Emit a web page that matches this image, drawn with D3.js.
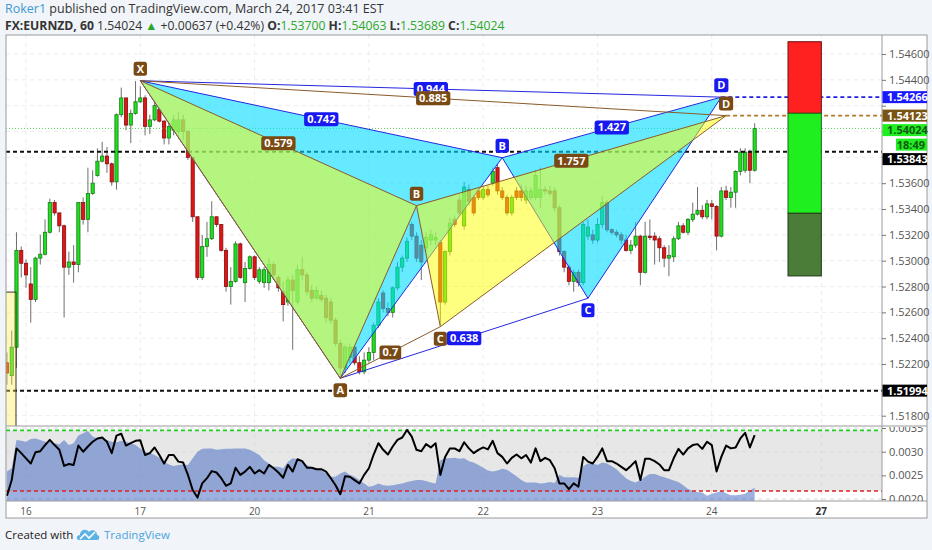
<!DOCTYPE html>
<html lang="en">
<head>
  <meta charset="UTF-8">
  <title>FX:EURNZD, 60</title>
  <script src="https://d3js.org/d3.v7.min.js"></script>
  <style>
    body { margin: 0; background: #f1f4f8; font-family: "Open Sans", Arial, sans-serif; }
    svg { display: block; }
    .tick text { fill: #555; font-size: 11px; font-family: "Open Sans", Arial, sans-serif; }
    .tick line { stroke: #777; }
  </style>
</head>
<body>
<svg width="932" height="550"></svg>
<script>
// ---- data (hourly bars, index 0 = Mar 16 00:00) ----
const firstBar = -4;
const opens = [
  1.5221, 1.5211, 1.5233, 1.5308, 1.5298, 1.5282, 1.5270, 1.5302, 1.5305, 1.5322,
  1.5345, 1.5337, 1.5327, 1.5295, 1.5299, 1.5297, 1.5345, 1.5332, 1.5352, 1.5366,
  1.5377, 1.5381, 1.5375, 1.5361, 1.5413, 1.5426, 1.5405, 1.5414, 1.5423, 1.5426,
  1.5404, 1.5409, 1.5417, 1.5408, 1.5395, 1.5401, 1.5400, 1.5409, 1.5400, 1.5380,
  1.5334, 1.5287, 1.5311, 1.5317, 1.5334, 1.5328, 1.5308, 1.5280, 1.5284, 1.5313,
  1.5283, 1.5294, 1.5303, 1.5284, 1.5283, 1.5283, 1.5297, 1.5287, 1.5276, 1.5268,
  1.5285, 1.5268, 1.5293, 1.5289, 1.5277, 1.5271, 1.5273, 1.5271, 1.5268, 1.5254,
  1.5236, 1.5217, 1.5225, 1.5233, 1.5221, 1.5214, 1.5223, 1.5229, 1.5250, 1.5275,
  1.5263, 1.5260, 1.5279, 1.5295, 1.5302, 1.5328, 1.5319, 1.5312, 1.5310, 1.5316,
  1.5316, 1.5314, 1.5268, 1.5307, 1.5332, 1.5347, 1.5327, 1.5355, 1.5349, 1.5354,
  1.5349, 1.5355, 1.5360, 1.5372, 1.5354, 1.5349, 1.5337, 1.5354, 1.5354, 1.5347,
  1.5349, 1.5349, 1.5349, 1.5355, 1.5354, 1.5354, 1.5341, 1.5307, 1.5295, 1.5284,
  1.5291, 1.5283, 1.5319, 1.5320, 1.5316, 1.5328, 1.5345, 1.5324, 1.5322, 1.5320,
  1.5316, 1.5308, 1.5312, 1.5319, 1.5291, 1.5319, 1.5319, 1.5317, 1.5310, 1.5302,
  1.5303, 1.5317, 1.5327, 1.5322, 1.5332, 1.5336, 1.5339, 1.5334, 1.5344, 1.5342,
  1.5319, 1.5354, 1.5349, 1.5353, 1.5369, 1.5370, 1.5384, 1.53700
];
const highs = [
  1.5229, 1.5246, 1.5322, 1.5311, 1.5301, 1.5295, 1.5303, 1.5320, 1.5332, 1.5348,
  1.5347, 1.5337, 1.5328, 1.5307, 1.5312, 1.5345, 1.5349, 1.5372, 1.5370, 1.5387,
  1.5392, 1.5388, 1.5376, 1.5414, 1.5434, 1.5426, 1.5417, 1.5439, 1.5435, 1.5428,
  1.5413, 1.5424, 1.5419, 1.5409, 1.5408, 1.5413, 1.5415, 1.5413, 1.5401, 1.5380,
  1.5334, 1.5320, 1.5330, 1.5346, 1.5334, 1.5328, 1.5310, 1.5295, 1.5315, 1.5314,
  1.5299, 1.5304, 1.5304, 1.5295, 1.5295, 1.5302, 1.5299, 1.5289, 1.5284, 1.5288,
  1.5289, 1.5297, 1.5303, 1.5291, 1.5281, 1.5280, 1.5277, 1.5274, 1.5271, 1.5256,
  1.5239, 1.5235, 1.5236, 1.5234, 1.5226, 1.5229, 1.5233, 1.5252, 1.5271, 1.5277,
  1.5268, 1.5280, 1.5299, 1.5304, 1.5318, 1.5330, 1.5322, 1.5316, 1.5322, 1.5324,
  1.5322, 1.5316, 1.5308, 1.5333, 1.5335, 1.5351, 1.5361, 1.5359, 1.5351, 1.5357,
  1.5358, 1.5358, 1.5372, 1.5375, 1.5357, 1.5351, 1.5351, 1.5357, 1.5359, 1.5358,
  1.5357, 1.5370, 1.5372, 1.5358, 1.5358, 1.5357, 1.5343, 1.5308, 1.5297, 1.5293,
  1.5293, 1.5330, 1.5332, 1.5324, 1.5333, 1.5350, 1.5347, 1.5325, 1.5324, 1.5322,
  1.5320, 1.5316, 1.5330, 1.5320, 1.5330, 1.5332, 1.5322, 1.5319, 1.5312, 1.5312,
  1.5319, 1.5330, 1.5329, 1.5333, 1.5345, 1.5357, 1.5343, 1.5347, 1.5347, 1.5343,
  1.5357, 1.5358, 1.5357, 1.5370, 1.5387, 1.5387, 1.5386, 1.54063
];
const lows = [
  1.5204, 1.5204, 1.5217, 1.5287, 1.5279, 1.5252, 1.5268, 1.5297, 1.5304, 1.5321,
  1.5335, 1.5322, 1.5256, 1.5289, 1.5283, 1.5291, 1.5328, 1.5322, 1.5351, 1.5365,
  1.5376, 1.5368, 1.5358, 1.5355, 1.5411, 1.5401, 1.5391, 1.5413, 1.5422, 1.5397,
  1.5398, 1.5408, 1.5407, 1.5390, 1.5390, 1.5397, 1.5397, 1.5393, 1.5378, 1.5330,
  1.5285, 1.5285, 1.5303, 1.5316, 1.5326, 1.5307, 1.5276, 1.5266, 1.5283, 1.5286,
  1.5268, 1.5293, 1.5285, 1.5282, 1.5279, 1.5277, 1.5285, 1.5276, 1.5253, 1.5265,
  1.5231, 1.5266, 1.5285, 1.5273, 1.5268, 1.5270, 1.5268, 1.5252, 1.5251, 1.5234,
  1.5209, 1.5213, 1.5221, 1.5219, 1.5212, 1.5212, 1.5221, 1.5223, 1.5248, 1.5260,
  1.5257, 1.5256, 1.5277, 1.5291, 1.5299, 1.5316, 1.5299, 1.5285, 1.5307, 1.5312,
  1.5312, 1.5250, 1.5266, 1.5304, 1.5326, 1.5335, 1.5324, 1.5343, 1.5335, 1.5347,
  1.5347, 1.5349, 1.5358, 1.5351, 1.5347, 1.5335, 1.5335, 1.5347, 1.5346, 1.5344,
  1.5347, 1.5347, 1.5341, 1.5351, 1.5350, 1.5338, 1.5304, 1.5291, 1.5281, 1.5276,
  1.5280, 1.5281, 1.5316, 1.5313, 1.5314, 1.5325, 1.5322, 1.5320, 1.5318, 1.5313,
  1.5307, 1.5305, 1.5310, 1.5281, 1.5290, 1.5316, 1.5297, 1.5299, 1.5295, 1.5288,
  1.5299, 1.5316, 1.5321, 1.5320, 1.5330, 1.5335, 1.5332, 1.5332, 1.5332, 1.5308,
  1.5318, 1.5347, 1.5341, 1.5341, 1.5366, 1.5368, 1.5360, 1.53689
];
const closes = [
  1.5213, 1.5233, 1.5308, 1.5298, 1.5289, 1.5270, 1.5302, 1.5305, 1.5322, 1.5345,
  1.5337, 1.5327, 1.5295, 1.5299, 1.5297, 1.5345, 1.5332, 1.5352, 1.5360, 1.5377,
  1.5381, 1.5375, 1.5361, 1.5413, 1.5426, 1.5405, 1.5414, 1.5423, 1.5426, 1.5404,
  1.5409, 1.5420, 1.5408, 1.5395, 1.5404, 1.5409, 1.5409, 1.5400, 1.5380, 1.5334,
  1.5287, 1.5311, 1.5317, 1.5334, 1.5328, 1.5308, 1.5280, 1.5284, 1.5313, 1.5287,
  1.5294, 1.5303, 1.5287, 1.5293, 1.5293, 1.5297, 1.5289, 1.5279, 1.5266, 1.5285,
  1.5277, 1.5293, 1.5289, 1.5276, 1.5271, 1.5277, 1.5270, 1.5256, 1.5254, 1.5236,
  1.5217, 1.5233, 1.5233, 1.5221, 1.5214, 1.5223, 1.5229, 1.5250, 1.5268, 1.5263,
  1.5260, 1.5279, 1.5295, 1.5302, 1.5315, 1.5319, 1.5302, 1.5299, 1.5318, 1.5320,
  1.5318, 1.5268, 1.5307, 1.5329, 1.5328, 1.5337, 1.5357, 1.5346, 1.5337, 1.5349,
  1.5355, 1.5351, 1.5369, 1.5354, 1.5349, 1.5337, 1.5349, 1.5349, 1.5349, 1.5354,
  1.5354, 1.5366, 1.5355, 1.5354, 1.5352, 1.5341, 1.5307, 1.5295, 1.5284, 1.5291,
  1.5283, 1.5328, 1.5326, 1.5316, 1.5328, 1.5345, 1.5324, 1.5322, 1.5320, 1.5316,
  1.5308, 1.5312, 1.5319, 1.5291, 1.5319, 1.5318, 1.5316, 1.5310, 1.5302, 1.5304,
  1.5317, 1.5327, 1.5322, 1.5332, 1.5336, 1.5339, 1.5334, 1.5344, 1.5342, 1.5319,
  1.5354, 1.5349, 1.5353, 1.5369, 1.5384, 1.5384, 1.5370, 1.54024
];

// lower pane: black line and blue area, same bars
const oscLine = [
  0.00207, 0.00240, 0.00307, 0.00297, 0.00286, 0.00275, 0.00299, 0.00301, 0.00314, 0.00325,
  0.00314, 0.00304, 0.00270, 0.00274, 0.00272, 0.00313, 0.00300, 0.00311, 0.00321, 0.00328,
  0.00330, 0.00321, 0.00297, 0.00334, 0.00338, 0.00313, 0.00318, 0.00323, 0.00324, 0.00293,
  0.00297, 0.00309, 0.00293, 0.00275, 0.00293, 0.00293, 0.00279, 0.00277, 0.00251, 0.00219,
  0.00203, 0.00233, 0.00244, 0.00259, 0.00256, 0.00244, 0.00228, 0.00233, 0.00266, 0.00251,
  0.00258, 0.00268, 0.00254, 0.00261, 0.00254, 0.00272, 0.00265, 0.00256, 0.00245, 0.00272,
  0.00258, 0.00284, 0.00280, 0.00266, 0.00266, 0.00263, 0.00263, 0.00258, 0.00244, 0.00229,
  0.00210, 0.00248, 0.00247, 0.00240, 0.00233, 0.00251, 0.00265, 0.00294, 0.00318, 0.00304,
  0.00294, 0.00311, 0.00325, 0.00330, 0.00346, 0.00332, 0.00304, 0.00301, 0.00316, 0.00309,
  0.00318, 0.00251, 0.00289, 0.00307, 0.00307, 0.00301, 0.00320,
  0.00307, 0.00297, 0.00304, 0.00309, 0.00305, 0.00323, 0.00297, 0.00289, 0.00275, 0.00287,
  0.00294, 0.00286, 0.00293, 0.00277, 0.00307, 0.00280, 0.00287, 0.00282, 0.00265, 0.00233,
  0.00233, 0.00221, 0.00233, 0.00226, 0.00289, 0.00279, 0.00275, 0.00289, 0.00307, 0.00280,
  0.00280, 0.00275, 0.00268, 0.00261, 0.00270, 0.00280, 0.00240, 0.00285, 0.00285, 0.00280,
  0.00273, 0.00261, 0.00261, 0.00286, 0.00306, 0.00294, 0.00307, 0.00314, 0.00316, 0.00306,
  0.00321, 0.00314, 0.00258, 0.00289, 0.00313, 0.00307, 0.00309, 0.00328, 0.00340, 0.00309,
  0.00335
];
const oscArea = [
  0.00258, 0.00265, 0.00325, 0.00323, 0.00321, 0.00327, 0.00328, 0.00325, 0.00321, 0.00321,
  0.00318, 0.00316, 0.00325, 0.00314, 0.00318, 0.00334, 0.00339, 0.00344, 0.00332, 0.00328,
  0.00327, 0.00325, 0.00321, 0.00320, 0.00323, 0.00321, 0.00318, 0.00314, 0.00307, 0.00300,
  0.00297, 0.00293, 0.00287, 0.00279, 0.00273, 0.00270, 0.00272, 0.00273, 0.00272, 0.00286,
  0.00300, 0.00306, 0.00307, 0.00307, 0.00304, 0.00305, 0.00306, 0.00306, 0.00307, 0.00307,
  0.00307, 0.00304, 0.00299, 0.00293, 0.00282, 0.00275, 0.00268, 0.00268, 0.00265, 0.00279,
  0.00286, 0.00284, 0.00279, 0.00272, 0.00266, 0.00265, 0.00261, 0.00254, 0.00247, 0.00247,
  0.00254, 0.00258, 0.00251, 0.00247, 0.00240, 0.00233, 0.00226, 0.00228, 0.00233, 0.00229,
  0.00228, 0.00229, 0.00231, 0.00233, 0.00236, 0.00238, 0.00240, 0.00240, 0.00238, 0.00235,
  0.00233, 0.00282, 0.00286, 0.00286, 0.00287, 0.00285, 0.00286,
  0.00280, 0.00277, 0.00272, 0.00266, 0.00260, 0.00258, 0.00260, 0.00264, 0.00262, 0.00255,
  0.00248, 0.00240, 0.00235, 0.00235, 0.00235, 0.00233, 0.00234, 0.00236, 0.00234, 0.00251,
  0.00246, 0.00246, 0.00246, 0.00245, 0.00269, 0.00275, 0.00275, 0.00272, 0.00277, 0.00275,
  0.00269, 0.00263, 0.00253, 0.00244, 0.00238, 0.00235, 0.00240, 0.00247, 0.00253, 0.00253,
  0.00249, 0.00246, 0.00243, 0.00239, 0.00236, 0.00229, 0.00221, 0.00217, 0.00215, 0.00214,
  0.00207, 0.00211, 0.00214, 0.00217, 0.00212, 0.00208, 0.00208, 0.00209, 0.00211, 0.00218,
  0.00224
];
const oscUpper = 0.00345, oscLower = 0.00217;

// axes
const dayTicks = [0, 24, 48, 72, 96, 120, 144, 167];
const dayLabels = ["16", "17", "20", "21", "22", "23", "24", "27"];
const priceTicks = [1.518, 1.520, 1.522, 1.524, 1.526, 1.528, 1.530, 1.532,
                    1.534, 1.536, 1.538, 1.540, 1.542, 1.544, 1.546];
const oscTicks = [0.0020, 0.0025, 0.0030, 0.0035];

// harmonic patterns: X A B C D
const pointNames = ["X", "A", "B", "C", "D"];
const brownBars = [24, 66, 82, 87, 147];
const brownPrices = [1.54393, 1.52090, 1.53426, 1.52489, 1.54123];
const brownRatios = ["0.579", "0.7", "1.757", "0.885"];   // XB, AC, BD, XD
const blueBars = [24, 66, 100, 118, 146];
const bluePrices = [1.54393, 1.52090, 1.53797, 1.52709, 1.54266];
const blueRatios = ["0.742", "0.638", "1.427", "0.944"];

// horizontal levels and boxes
const blackLevels = [1.53843, 1.51994];
const lastPrice = 1.54024;
const countdown = "18:49";
const positionBars = [160, 167];
const positionPrices = [1.54695, 1.54141, 1.53367, 1.52882];
const yellowBoxBars = [-10, -2.1];
const yellowBoxPrices = [1.52757, 1.5100];

// ---- layout ----
const svg = d3.select("svg");
const L = 6, R = 882, AX = 927;
const mainTop = 35, mainBot = 426, oscBot = 501, timeBot = 518;

const x = d3.scaleLinear().domain([0, 144]).range([26, 711.8]);
const y = d3.scaleLinear().domain([1.518, 1.546]).range([415.7, 54]);
const yo = d3.scaleLinear().domain([0.002, 0.003]).range([499, 451.7]);
const bars = d3.range(firstBar, firstBar + closes.length);

svg.append("rect").attr("x", L).attr("y", mainTop)
  .attr("width", AX - L).attr("height", timeBot - mainTop)
  .attr("fill", "#fff");

const defs = svg.append("defs");
defs.append("clipPath").attr("id", "clipMain").append("rect")
  .attr("x", L).attr("y", mainTop).attr("width", R - L).attr("height", mainBot - mainTop);
defs.append("clipPath").attr("id", "clipOsc").append("rect")
  .attr("x", L).attr("y", mainBot).attr("width", R - L).attr("height", oscBot - mainBot);
defs.append("clipPath").attr("id", "clipOscAxis").append("rect")
  .attr("x", R).attr("y", mainBot + 1).attr("width", AX - R).attr("height", oscBot - mainBot - 1);

// ---- main pane ----
const main = svg.append("g").attr("clip-path", "url(#clipMain)");

main.append("g").selectAll("line").data(priceTicks).join("line")
  .attr("x1", L).attr("x2", R).attr("y1", d => y(d)).attr("y2", d => y(d))
  .attr("stroke", "#ececec").attr("stroke-dasharray", "4,4");
main.append("g").selectAll("line").data(dayTicks).join("line")
  .attr("x1", d => x(d)).attr("x2", d => x(d)).attr("y1", mainTop).attr("y2", mainBot)
  .attr("stroke", "#ececec").attr("stroke-dasharray", "4,4");

const candleData = bars.map((b, k) => ({ b, o: opens[k], h: highs[k], l: lows[k], c: closes[k] }));
const candles = main.append("g").selectAll("g").data(candleData).join("g");
candles.append("line")
  .attr("x1", d => x(d.b)).attr("x2", d => x(d.b))
  .attr("y1", d => y(d.h)).attr("y2", d => y(d.l))
  .attr("stroke", "#6f6f6f");
candles.append("rect")
  .attr("x", d => x(d.b) - 1.6).attr("width", 3.2)
  .attr("y", d => y(Math.max(d.o, d.c)))
  .attr("height", d => Math.max(1, Math.abs(y(d.o) - y(d.c))))
  .attr("fill", d => d.c >= d.o ? "#1fe01f" : "#e01616")
  .attr("stroke", d => d.c >= d.o ? "#157d15" : "#860d0d")
  .attr("stroke-width", 0.8);

// level lines
main.append("g").selectAll("line").data(blackLevels).join("line")
  .attr("x1", L).attr("x2", R).attr("y1", d => y(d)).attr("y2", d => y(d))
  .attr("stroke", "#111").attr("stroke-width", 2).attr("stroke-dasharray", "4,3");
main.append("line").attr("x1", L).attr("x2", R)
  .attr("y1", y(lastPrice)).attr("y2", y(lastPrice))
  .attr("stroke", "#2fc42f").attr("stroke-width", 0.8).attr("stroke-dasharray", "1,2");

// patterns
function patternPoints(bs, ps) { return bs.map((b, k) => [x(b), y(ps[k])]); }
const brownP = patternPoints(brownBars, brownPrices);
const blueP = patternPoints(blueBars, bluePrices);
const ratioPairs = [[0, 2], [1, 3], [2, 4], [0, 4]];

function drawPattern(p, fill, stroke) {
  const g = main.append("g");
  g.selectAll("path.tri").data([[p[0], p[1], p[2]], [p[2], p[3], p[4]]]).join("path")
    .attr("class", "tri")
    .attr("d", d => "M" + d.join("L") + "Z")
    .attr("fill", fill);
  g.append("path").attr("d", "M" + p.join("L"))
    .attr("fill", "none").attr("stroke", stroke).attr("stroke-width", 1);
  g.selectAll("line").data(ratioPairs).join("line")
    .attr("x1", d => p[d[0]][0]).attr("y1", d => p[d[0]][1])
    .attr("x2", d => p[d[1]][0]).attr("y2", d => p[d[1]][1])
    .attr("stroke", stroke).attr("stroke-width", 1);
}
drawPattern(blueP, "rgba(0,220,255,0.6)", "#2626e0");
drawPattern(brownP, "rgba(255,255,0,0.5)", "#8b5a2b");

// yellow box on the left edge
main.append("rect")
  .attr("x", x(yellowBoxBars[0])).attr("width", x(yellowBoxBars[1]) - x(yellowBoxBars[0]))
  .attr("y", y(yellowBoxPrices[0])).attr("height", y(yellowBoxPrices[1]) - y(yellowBoxPrices[0]))
  .attr("fill", "rgba(255,236,80,0.38)").attr("stroke", "#3a3320").attr("stroke-width", 1);

// D-level dashed lines
main.append("line").attr("x1", blueP[4][0]).attr("x2", R)
  .attr("y1", y(bluePrices[4])).attr("y2", y(bluePrices[4]))
  .attr("stroke", "#2020e8").attr("stroke-width", 1.6).attr("stroke-dasharray", "4,3");
main.append("line").attr("x1", brownP[4][0]).attr("x2", R)
  .attr("y1", y(brownPrices[4])).attr("y2", y(brownPrices[4]))
  .attr("stroke", "#b07a2a").attr("stroke-width", 1.6).attr("stroke-dasharray", "4,3");

// position tool boxes
const posColors = [["#ff2020", "#6a1010"], ["#1fee1f", "#1a6a1a"], ["#4b7c38", "#1f3a18"]];
main.append("g").selectAll("rect").data(posColors).join("rect")
  .attr("x", x(positionBars[0])).attr("width", x(positionBars[1]) - x(positionBars[0]))
  .attr("y", (d, k) => y(positionPrices[k]))
  .attr("height", (d, k) => y(positionPrices[k + 1]) - y(positionPrices[k]))
  .attr("fill", d => d[0]).attr("stroke", d => d[1]).attr("stroke-width", 1);

// labels on drawings
const labels = main.append("g").attr("font-family", "'Open Sans', Arial, sans-serif")
  .attr("font-weight", "bold").attr("font-size", 11);
function boxLabel(cx, cy, txt, bg, minW) {
  const g = labels.append("g");
  const t = g.append("text").attr("x", cx).attr("y", cy + 4)
    .attr("text-anchor", "middle").attr("fill", "#fff").text(txt);
  const w = Math.max(minW || 0, t.node().getComputedTextLength() + 6);
  g.insert("rect", () => t.node())
    .attr("x", cx - w / 2).attr("y", cy - 7).attr("width", w).attr("height", 14)
    .attr("rx", 2.5).attr("fill", bg);
}
function patternLabels(p, ratios, bg) {
  ratioPairs.forEach((pr, k) => {
    const a = p[pr[0]], b = p[pr[1]];
    boxLabel((a[0] + b[0]) / 2, (a[1] + b[1]) / 2, ratios[k], bg);
  });
}
function pointLabels(p, bg, which) {
  which.forEach(k => {
    const below = pointNames[k] === "A" || pointNames[k] === "C";
    boxLabel(p[k][0], p[k][1] + (below ? 12 : -12), pointNames[k], bg, 13);
  });
}
patternLabels(blueP, blueRatios, "#1818f0");
patternLabels(brownP, brownRatios, "#7a4a14");
pointLabels(blueP, "#1818f0", [2, 3, 4]);
pointLabels(brownP, "#7a4a14", [0, 1, 2, 3, 4]);

// ---- lower pane ----
const osc = svg.append("g").attr("clip-path", "url(#clipOsc)");
osc.append("rect").attr("x", L).attr("width", R - L)
  .attr("y", yo(oscUpper)).attr("height", yo(oscLower) - yo(oscUpper))
  .attr("fill", "#e7e7e7");
osc.append("g").selectAll("line").data(dayTicks).join("line")
  .attr("x1", d => x(d)).attr("x2", d => x(d)).attr("y1", mainBot).attr("y2", oscBot)
  .attr("stroke", "#dcdcdc").attr("stroke-dasharray", "4,4");
osc.append("g").selectAll("line").data(oscTicks).join("line")
  .attr("x1", L).attr("x2", R).attr("y1", d => yo(d)).attr("y2", d => yo(d))
  .attr("stroke", "#dcdcdc").attr("stroke-dasharray", "4,4");

const oscData = bars.map((b, k) => ({ b, line: oscLine[k], area: oscArea[k] }));
osc.append("path").datum(oscData)
  .attr("d", d3.area().x(d => x(d.b)).y0(oscBot).y1(d => yo(d.area)))
  .attr("fill", "rgba(60,100,195,0.5)");
osc.append("line").attr("x1", L).attr("x2", R)
  .attr("y1", yo(oscUpper)).attr("y2", yo(oscUpper))
  .attr("stroke", "#22cc22").attr("stroke-width", 1.6).attr("stroke-dasharray", "4,3");
osc.append("line").attr("x1", L).attr("x2", R)
  .attr("y1", yo(oscLower)).attr("y2", yo(oscLower))
  .attr("stroke", "#e02020").attr("stroke-width", 1.6).attr("stroke-dasharray", "4,3");
osc.append("path").datum(oscData)
  .attr("d", d3.line().x(d => x(d.b)).y(d => yo(d.line)))
  .attr("fill", "none").attr("stroke", "#000").attr("stroke-width", 2)
  .attr("stroke-linejoin", "round");

// ---- frame lines ----
const frame = svg.append("g").attr("stroke", "#9a9a9a").attr("fill", "none");
frame.append("rect").attr("x", L).attr("y", mainTop).attr("width", AX - L).attr("height", timeBot - mainTop);
frame.append("line").attr("x1", L).attr("x2", AX).attr("y1", mainBot).attr("y2", mainBot);
frame.append("line").attr("x1", L).attr("x2", AX).attr("y1", oscBot).attr("y2", oscBot);
frame.append("line").attr("x1", R).attr("x2", R).attr("y1", mainTop).attr("y2", oscBot);

// price tags on the axis, stacked when they collide
const fmt5 = d3.format(".5f");
const tags = [
  { v: bluePrices[4], txt: fmt5(bluePrices[4]), bg: "#1a1aff", fg: "#fff" },
  { v: brownPrices[4], txt: fmt5(brownPrices[4]), bg: "#7a5412", fg: "#fff" },
  { v: lastPrice, txt: fmt5(lastPrice), bg: "#1fee1f", fg: "#125a12" },
  { v: null, txt: countdown, bg: "#1fee1f", fg: "#125a12", short: true },
  { v: blackLevels[0], txt: fmt5(blackLevels[0]), bg: "#000", fg: "#fff" },
  { v: blackLevels[1], txt: fmt5(blackLevels[1]), bg: "#000", fg: "#fff" }
];
const tagH = 12, tagGap = 2.5;
let prevBottom = -Infinity;
tags.forEach(t => {
  let top = t.v === null ? prevBottom + tagGap : y(t.v) - tagH / 2;
  if (top < prevBottom + tagGap) top = prevBottom + tagGap;
  t.top = top;
  prevBottom = top + tagH;
});

// ---- price axis (labels hidden where a tag sits on top of them) ----
const yAxis = svg.append("g").attr("transform", `translate(${R},0)`)
  .call(d3.axisRight(y).tickValues(priceTicks).tickFormat(fmt5).tickSize(4).tickPadding(3));
yAxis.select(".domain").remove();
yAxis.selectAll(".tick").filter(d => tags.some(t => y(d) + 5 > t.top && y(d) - 5 < t.top + tagH))
  .select("text").remove();

const oAxis = svg.append("g").attr("clip-path", "url(#clipOscAxis)")
  .append("g").attr("transform", `translate(${R},0)`)
  .call(d3.axisRight(yo).tickValues(oscTicks).tickFormat(d3.format(".4f")).tickSize(4).tickPadding(3));
oAxis.select(".domain").remove();

const tagG = svg.append("g").attr("font-family", "'Open Sans', Arial, sans-serif")
  .attr("font-weight", "bold").attr("font-size", 11);
tags.forEach(t => {
  const x0 = t.short ? 896 : R + 0.5;
  tagG.append("rect").attr("x", x0).attr("y", t.top)
    .attr("width", AX - x0).attr("height", tagH).attr("fill", t.bg);
  tagG.append("text").attr("x", t.short ? AX - 2 : R + 5).attr("y", t.top + tagH - 2)
    .attr("text-anchor", t.short ? "end" : "start")
    .attr("fill", t.fg).text(t.txt);
});

// ---- time axis ----
svg.append("g").selectAll("text").data(dayTicks).join("text")
  .attr("x", d => x(d)).attr("y", 515)
  .attr("text-anchor", "middle")
  .attr("font-size", 10).attr("font-family", "'Open Sans', Arial, sans-serif")
  .attr("font-weight", (d, k) => k === dayTicks.length - 1 ? "bold" : "normal")
  .attr("fill", (d, k) => k === dayTicks.length - 1 ? "#333" : "#555")
  .text((d, k) => dayLabels[k]);

// ---- header ----
const head = svg.append("g").attr("font-family", "'Open Sans', Arial, sans-serif")
  .style("white-space", "pre");
const h1 = head.append("text").attr("x", 5).attr("y", 13).attr("fill", "#333").attr("font-size", 12.5);
h1.append("tspan").attr("fill", "#3d9ad6").text("Roker1");
h1.append("tspan").text(" published on TradingView.com, March 24, 2017 03:41 EST");

const h2 = head.append("text").attr("x", 5).attr("y", 29.5).attr("fill", "#333").attr("font-size", 12.2);
h2.append("tspan").attr("font-weight", "bold").text("FX:EURNZD, 60");
h2.append("tspan").text("  1.54024 ");
h2.append("tspan").attr("fill", "#25a825").text("\u25B2");
h2.append("tspan").text(" +0.00637 (+0.42%)  ");
[["O:", "1.53700"], ["H:", "1.54063"], ["L:", "1.53689"], ["C:", "1.54024"]].forEach((p, k) => {
  h2.append("tspan").attr("font-weight", "bold").text((k ? "  " : "") + p[0]);
  h2.append("tspan").attr("fill", "#2aa82a").text(p[1]);
});

// ---- footer ----
const foot = svg.append("g").attr("font-family", "'Open Sans', Arial, sans-serif").attr("font-size", 11.5);
foot.append("text").attr("x", 5).attr("y", 539).attr("fill", "#222").text("Created with");
const logo = foot.append("g").attr("transform", "translate(77,527)");
logo.append("path")
  .attr("d", "M2 13 C-1 13 -1 8 3 8 C3 3 9 1 12 5 C14 2 20 3 20 8 C23 8 23 13 20 13 Z")
  .attr("fill", "#5db2e4");
logo.append("polyline").attr("points", "3,12 8,7 12,11 18,5")
  .attr("fill", "none").attr("stroke", "#fff").attr("stroke-width", 1.6);
foot.append("text").attr("x", 104).attr("y", 539).attr("fill", "#4aa3df").text("TradingView");
</script>
</body>
</html>
